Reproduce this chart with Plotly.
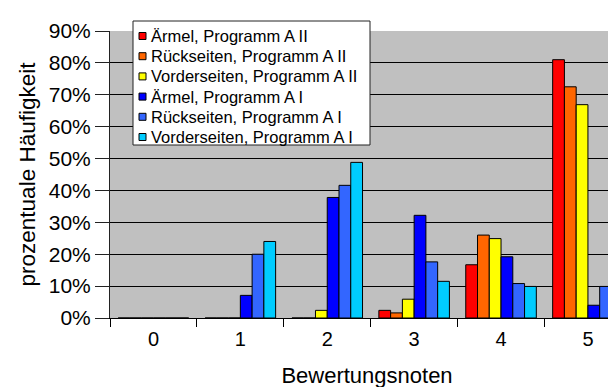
import plotly.graph_objects as go

categories = ["0", "1", "2", "3", "4", "5"]
series_names = [
    "Ärmel, Programm A II",
    "Rückseiten, Programm A II",
    "Vorderseiten, Programm A II",
    "Ärmel, Programm A I",
    "Rückseiten, Programm A I",
    "Vorderseiten, Programm A I",
]
aermel_a2 = [0, 0, 0, 0.024, 0.167, 0.810]
rueck_a2 = [0, 0, 0, 0.016, 0.260, 0.725]
vorder_a2 = [0, 0, 0.024, 0.059, 0.249, 0.669]
aermel_a1 = [0, 0.071, 0.378, 0.322, 0.192, 0.040]
rueck_a1 = [0, 0.200, 0.416, 0.176, 0.108, 0.099]
vorder_a1 = [0, 0.240, 0.488, 0.115, 0.099, 0.051]
series_values = [aermel_a2, rueck_a2, vorder_a2, aermel_a1, rueck_a1, vorder_a1]
colors = ["#FF0000", "#FF6600", "#FFFF00", "#0000FF", "#3366FF", "#00CCFF"]
y_ticks = [0, 0.1, 0.2, 0.3, 0.4, 0.5, 0.6, 0.7, 0.8, 0.9]

FONT = "Liberation Sans, Arial, sans-serif"
W, H = 616, 387
ML, MR, MT, MB = 102, 0, 23, 77
PW, PH = W - ML - MR, H - MT - MB


def px_x(px):
    return (px - ML) / PW


def px_y(py):
    return (H - MB - py) / PH


fig = go.Figure()
for name, vals, col in zip(series_names, series_values, colors):
    fig.add_trace(go.Bar(
        x=categories, y=vals, name=name,
        marker=dict(color=col, line=dict(color="black", width=1)),
    ))

# Manual legend (Excel style: small keys, white box with black border)
shapes = [dict(type="rect", xref="paper", yref="paper",
               x0=px_x(125), x1=px_x(362), y0=px_y(137), y1=px_y(13),
               fillcolor="white", line=dict(color="#222222", width=1), layer="above")]
annotations = []
for i, (name, col) in enumerate(zip(series_names, colors)):
    cy = 28 + i * 20.2
    shapes.append(dict(type="rect", xref="paper", yref="paper",
                       x0=px_x(131), x1=px_x(138), y0=px_y(cy + 3.5), y1=px_y(cy - 3.5),
                       fillcolor=col, line=dict(color="black", width=1), layer="above"))
    annotations.append(dict(xref="paper", yref="paper", x=px_x(141), y=px_y(cy),
                            xanchor="left", yanchor="middle", text=name, showarrow=False,
                            font=dict(family=FONT, size=16.5, color="black")))

fig.update_layout(
    width=W, height=H,
    margin=dict(l=ML, r=MR, t=MT, b=MB),
    paper_bgcolor="white",
    plot_bgcolor="#C0C0C0",
    barmode="group",
    bargap=0.188,
    bargroupgap=0,
    font=dict(family=FONT, size=20, color="black"),
    showlegend=False,
    shapes=shapes,
    annotations=annotations,
    xaxis=dict(
        type="category",
        range=[-0.5, 5.415],
        tickson="boundaries",
        ticks="outside", ticklen=8, tickcolor="black", tickwidth=1,
        ticklabelstandoff=3,
        showline=True, linecolor="black", linewidth=1,
        showgrid=False,
        title=dict(text="Bewertungsnoten", font=dict(size=22), standoff=18),
        tickfont=dict(size=20),
    ),
    yaxis=dict(
        range=[0, 0.9],
        tickvals=y_ticks,
        tickformat=".0%",
        ticks="outside", ticklen=14, tickcolor="#222222", tickwidth=1,
        showline=True, linecolor="#222222", linewidth=1,
        showgrid=True, gridcolor="black", gridwidth=1,
        zeroline=False,
        title=dict(text="prozentuale Häufigkeit", font=dict(size=22.5), standoff=6),
        tickfont=dict(size=21),
    ),
)

fig.write_html("out.html")
